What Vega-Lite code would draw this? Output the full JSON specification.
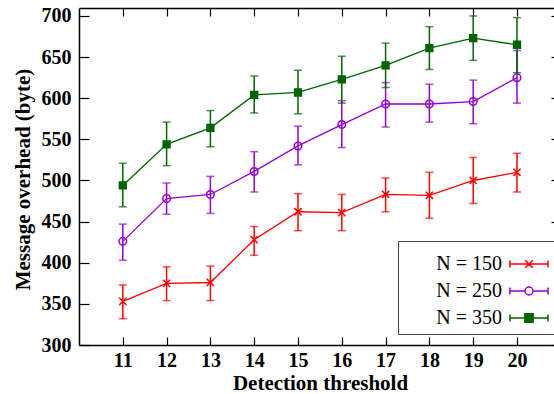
{
  "$schema": "https://vega.github.io/schema/vega-lite/v6.json",
  "width": 475,
  "height": 337,
  "autosize": "none",
  "padding": {"left": 79, "top": 8, "right": 0, "bottom": 49},
  "background": "white",
  "config": {
    "view": {"stroke": null},
    "font": "Liberation Serif",
    "axis": {
      "grid": false,
      "domainColor": "black",
      "domainWidth": 1.5,
      "tickColor": "black",
      "tickWidth": 1.2,
      "labelFont": "Liberation Serif",
      "labelFontSize": 20,
      "labelFontWeight": "bold",
      "labelColor": "black",
      "labelFlush": false,
      "labelOverlap": false,
      "titleFont": "Liberation Serif",
      "titleFontSize": 21,
      "titleFontWeight": "bold",
      "titleColor": "black"
    },
    "legend": {
      "orient": "none",
      "legendX": 319,
      "legendY": 233,
      "padding": 6,
      "strokeColor": "#444444",
      "fillColor": "white",
      "symbolSize": 1024,
      "symbolStrokeWidth": 1.5,
      "symbolOpacity": 1,
      "labelFont": "Liberation Serif",
      "labelFontSize": 20,
      "labelFontWeight": "normal",
      "labelColor": "black",
      "labelAlign": "right",
      "labelOffset": -44,
      "symbolOffset": 108,
      "rowPadding": -6,
      "labelLimit": 300
    }
  },
  "data": {
    "values": [
      {"t": 11, "N": "N = 150", "v": 353, "lo": 332, "hi": 373},
      {"t": 12, "N": "N = 150", "v": 375, "lo": 354, "hi": 395},
      {"t": 13, "N": "N = 150", "v": 376, "lo": 354, "hi": 396},
      {"t": 14, "N": "N = 150", "v": 428, "lo": 409, "hi": 444},
      {"t": 15, "N": "N = 150", "v": 462, "lo": 439, "hi": 484},
      {"t": 16, "N": "N = 150", "v": 461, "lo": 439, "hi": 483},
      {"t": 17, "N": "N = 150", "v": 483, "lo": 462, "hi": 503},
      {"t": 18, "N": "N = 150", "v": 482, "lo": 454, "hi": 510},
      {"t": 19, "N": "N = 150", "v": 500, "lo": 472, "hi": 528},
      {"t": 20, "N": "N = 150", "v": 510, "lo": 486, "hi": 533},
      {"t": 11, "N": "N = 250", "v": 426, "lo": 403, "hi": 447},
      {"t": 12, "N": "N = 250", "v": 478, "lo": 459, "hi": 497},
      {"t": 13, "N": "N = 250", "v": 483, "lo": 460, "hi": 505},
      {"t": 14, "N": "N = 250", "v": 511, "lo": 486, "hi": 535},
      {"t": 15, "N": "N = 250", "v": 542, "lo": 519, "hi": 566},
      {"t": 16, "N": "N = 250", "v": 568, "lo": 540, "hi": 597},
      {"t": 17, "N": "N = 250", "v": 593, "lo": 565, "hi": 619},
      {"t": 18, "N": "N = 250", "v": 593, "lo": 571, "hi": 617},
      {"t": 19, "N": "N = 250", "v": 596, "lo": 569, "hi": 622},
      {"t": 20, "N": "N = 250", "v": 625, "lo": 594, "hi": 658},
      {"t": 11, "N": "N = 350", "v": 494, "lo": 468, "hi": 521},
      {"t": 12, "N": "N = 350", "v": 544, "lo": 518, "hi": 571},
      {"t": 13, "N": "N = 350", "v": 564, "lo": 541, "hi": 585},
      {"t": 14, "N": "N = 350", "v": 604, "lo": 582, "hi": 627},
      {"t": 15, "N": "N = 350", "v": 607, "lo": 581, "hi": 634},
      {"t": 16, "N": "N = 350", "v": 623, "lo": 594, "hi": 651},
      {"t": 17, "N": "N = 350", "v": 640, "lo": 613, "hi": 667},
      {"t": 18, "N": "N = 350", "v": 661, "lo": 635, "hi": 687},
      {"t": 19, "N": "N = 350", "v": 673, "lo": 646, "hi": 700},
      {"t": 20, "N": "N = 350", "v": 665, "lo": 631, "hi": 698}
    ]
  },
  "layer": [
    {
      "encoding": {
        "x": {
          "field": "t", "type": "quantitative",
          "scale": {"domain": [10, 20.845], "nice": false, "zero": false},
          "axis": {
            "orient": "bottom",
            "values": [11, 12, 13, 14, 15, 16, 17, 18, 19, 20],
            "title": "Detection threshold",
            "tickSize": -8,
            "labelPadding": 13,
            "titleX": 241,
            "titleY": 44,
            "titleBaseline": "alphabetic"
          }
        }
      },
      "layer": [
        {
          "mark": {"type": "rule", "strokeWidth": 1.5},
          "encoding": {
            "y": {
              "field": "lo", "type": "quantitative",
              "scale": {"domain": [300, 709.7], "nice": false, "zero": false},
              "axis": {
                "orient": "left",
                "values": [300, 350, 400, 450, 500, 550, 600, 650, 700],
                "title": "Message overhead (byte)",
                "tickSize": -10,
                "labelPadding": 18,
                "titleX": -56,
                "titleY": 171,
                "titleAngle": -90,
                "titleBaseline": "middle"
              }
            },
            "y2": {"field": "hi"},
            "stroke": {
              "field": "N", "type": "nominal",
              "scale": {"domain": ["N = 150", "N = 250", "N = 350"], "range": ["#ff0000", "#9400d3", "#006400"]},
              "legend": null
            }
          }
        },
        {
          "mark": {"type": "tick", "orient": "horizontal", "size": 8, "thickness": 1.5},
          "encoding": {
            "y": {"field": "lo", "type": "quantitative"},
            "color": {
              "field": "N", "type": "nominal",
              "scale": {"domain": ["N = 150", "N = 250", "N = 350"], "range": ["#ff0000", "#9400d3", "#006400"]},
              "legend": null
            }
          }
        },
        {
          "mark": {"type": "tick", "orient": "horizontal", "size": 8, "thickness": 1.5},
          "encoding": {
            "y": {"field": "hi", "type": "quantitative"},
            "color": {
              "field": "N", "type": "nominal",
              "scale": {"domain": ["N = 150", "N = 250", "N = 350"], "range": ["#ff0000", "#9400d3", "#006400"]},
              "legend": null
            }
          }
        },
        {
          "mark": {"type": "line", "strokeWidth": 1.3},
          "encoding": {
            "y": {"field": "v", "type": "quantitative"},
            "stroke": {"field": "N", "type": "nominal", "legend": null},
            "detail": {"field": "N"}
          }
        },
        {
          "mark": {"type": "point", "filled": false, "size": 64, "strokeWidth": 1.5, "opacity": 1},
          "encoding": {
            "y": {"field": "v", "type": "quantitative"},
            "stroke": {"field": "N", "type": "nominal", "legend": null},
            "fill": {
              "field": "N", "type": "nominal",
              "scale": {"domain": ["N = 150", "N = 250", "N = 350"], "range": ["transparent", "transparent", "#006400"]},
              "legend": null
            },
            "shape": {
              "field": "N", "type": "nominal",
              "scale": {"domain": ["N = 150", "N = 250", "N = 350"], "range": ["M-0.9,-0.9L0.9,0.9M-0.9,0.9L0.9,-0.9", "M0.95,0A0.95,0.95 0 1,1 -0.95,0A0.95,0.95 0 1,1 0.95,0", "M-0.85,-0.85H0.85V0.85H-0.85Z"]},
              "legend": null
            }
          }
        }
      ]
    },
    {
      "mark": {"type": "point", "filled": false, "size": 1024, "strokeWidth": 1.5, "opacity": 0},
      "encoding": {
        "x": {
          "field": "t", "type": "quantitative",
          "scale": {"domain": [10, 20.845], "nice": false, "zero": false},
          "axis": {
            "orient": "top",
            "values": [11, 12, 13, 14, 15, 16, 17, 18, 19, 20],
            "labels": false,
            "title": null,
            "tickSize": -8
          }
        },
        "y": {
          "field": "v", "type": "quantitative",
          "scale": {"domain": [300, 709.7], "nice": false, "zero": false},
          "axis": {
            "orient": "right",
            "values": [300, 350, 400, 450, 500, 550, 600, 650, 700],
            "labels": false,
            "title": null,
            "domain": false,
            "tickSize": -3
          }
        },
        "stroke": {
          "field": "N", "type": "nominal",
          "scale": {"domain": ["N = 150", "N = 250", "N = 350"], "range": ["#ff0000", "#9400d3", "#006400"]},
          "title": null,
          "legend": {"labelFont": "Liberation Serif", "labelFontSize": 20, "labelFontWeight": "normal"}
        },
        "fill": {
          "field": "N", "type": "nominal",
          "scale": {"domain": ["N = 150", "N = 250", "N = 350"], "range": ["transparent", "transparent", "#006400"]},
          "title": null
        },
        "shape": {
          "field": "N", "type": "nominal",
          "scale": {"domain": ["N = 150", "N = 250", "N = 350"], "range": [
            "M-1.19,0H1.19M-1.19,-0.22V0.22M1.19,-0.22V0.22M-0.24,-0.24L0.24,0.24M-0.24,0.24L0.24,-0.24",
            "M-1.19,0H-0.25M0.25,0H1.19M-1.19,-0.22V0.22M1.19,-0.22V0.22M0.25,0A0.25,0.25 0 1,1 -0.25,0A0.25,0.25 0 1,1 0.25,0",
            "M-1.19,0H1.19M-1.19,-0.22V0.22M1.19,-0.22V0.22M-0.26,-0.26H0.26V0.26H-0.26Z"
          ]},
          "title": null
        }
      }
    }
  ],
  "resolve": {
    "scale": {"x": "independent", "y": "independent", "stroke": "independent", "fill": "independent", "shape": "independent", "color": "independent"},
    "axis": {"x": "independent", "y": "independent"}
  }
}
